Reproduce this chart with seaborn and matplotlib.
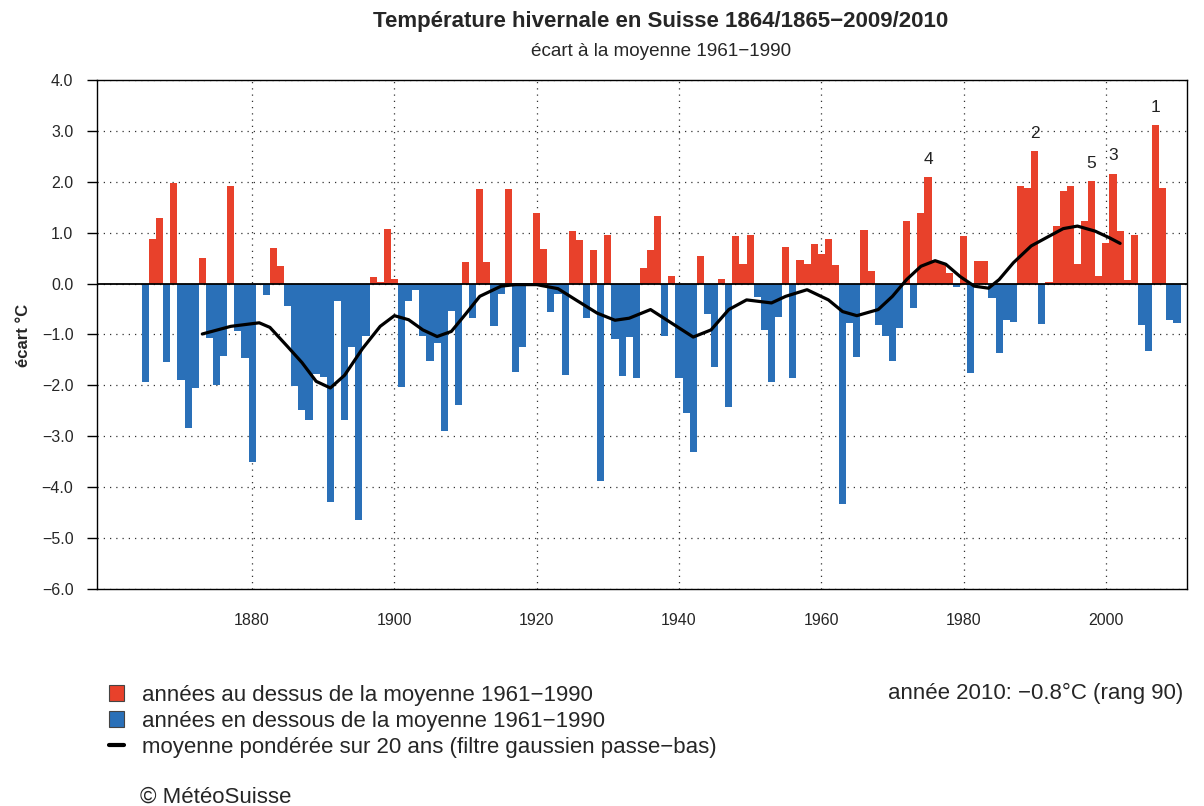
import numpy as np
import pandas as pd
import matplotlib
matplotlib.use("Agg")
import matplotlib.pyplot as plt
import seaborn as sns
from matplotlib.patches import Patch
from matplotlib.lines import Line2D

# ---------------- data ----------------
years = list(range(1865, 2011))
anomaly = [
    -1.93, 0.88, 1.28, -1.55, 1.97, -1.89, -2.84, -2.05, 0.51, -1.07,   # 1865-1874
    -2.00, -1.42, 1.91, -0.94, -1.47, -3.51, -0.03, -0.23, 0.70, 0.34,  # 1875-1884
    -0.44, -2.01, -2.49, -2.67, -1.78, -1.84, -4.30, -0.35, -2.67, -1.25,  # 1885-1894
    -4.64, -1.03, 0.12, 0.03, 1.08, 0.10, -2.03, -0.35, -0.13, -1.03,   # 1895-1904
    -1.52, -1.17, -2.90, -0.53, -2.39, 0.42, -0.68, 1.86, 0.42, -0.84,  # 1905-1914
    -0.20, 1.86, -1.74, -1.24, -0.02, 1.39, 0.68, -0.55, -0.20, -1.79,  # 1915-1924
    1.03, 0.86, -0.68, 0.66, -3.88, 0.95, -1.08, -1.82, -1.05, -1.86,   # 1925-1934
    0.30, 0.66, 1.33, -1.03, 0.14, -1.86, -2.54, -3.31, 0.54, -0.59,    # 1935-1944
    -1.63, 0.10, -2.42, 0.93, 0.38, 0.95, -0.26, -0.92, -1.93, -0.66,   # 1945-1954
    0.72, -1.86, 0.47, 0.38, 0.77, 0.59, 0.88, 0.36, -4.33, -0.78,      # 1955-1964
    -1.45, 1.05, 0.24, -0.82, -1.03, -1.53, -0.87, 1.23, -0.47, 1.39,   # 1965-1974
    2.09, 0.42, 0.40, 0.20, -0.07, 0.93, -1.75, 0.45, 0.45, -0.28,      # 1975-1984
    -1.37, -0.71, -0.75, 1.91, 1.87, 2.60, -0.80, 0.03, 1.14, 1.82,     # 1985-1994
    1.91, 0.39, 1.23, 2.02, 0.14, 0.79, 2.16, 1.03, 0.08, 0.96,         # 1995-2004
    -0.82, -1.33, 3.12, 1.87, -0.71, -0.78,                             # 2005-2010
]

# 20-year gaussian low-pass curve
curve_years = [1873, 1877, 1881, 1882.5, 1885, 1887, 1889, 1891, 1893, 1895.5,
               1898, 1900, 1902, 1904, 1906, 1908, 1910, 1912, 1915, 1917,
               1920, 1923, 1925.5, 1928.5, 1931, 1933, 1936, 1939, 1942, 1944.5,
               1947, 1949.5, 1953, 1955, 1958, 1961, 1963, 1965, 1968, 1970,
               1972, 1974, 1976, 1977.5, 1979.5, 1981.5, 1983.5, 1985, 1987, 1989.5,
               1992, 1994, 1996, 1998.5, 2000.5, 2002]
curve_vals = [-0.99, -0.84, -0.77, -0.86, -1.24, -1.55, -1.92, -2.05, -1.80, -1.28,
              -0.84, -0.63, -0.71, -0.91, -1.04, -0.94, -0.60, -0.25, -0.05, -0.02,
              -0.02, -0.10, -0.32, -0.58, -0.72, -0.68, -0.51, -0.78, -1.05, -0.91,
              -0.51, -0.32, -0.38, -0.25, -0.12, -0.32, -0.55, -0.63, -0.51, -0.25,
              0.08, 0.34, 0.45, 0.38, 0.14, -0.05, -0.09, 0.08, 0.41, 0.74,
              0.93, 1.08, 1.13, 1.03, 0.90, 0.79]

rank_years = [2007, 1990, 2001, 1975, 1998]
yticks = [-6, -5, -4, -3, -2, -1, 0, 1, 2, 3, 4]
xticks = [1880, 1900, 1920, 1940, 1960, 1980, 2000]

title = "Température hivernale en Suisse 1864/1865\u22122009/2010"
subtitle = "écart à la moyenne 1961\u22121990"
ylabel = "écart °C"
legend_labels = ["années au dessus de la moyenne 1961\u22121990",
                 "années en dessous de la moyenne 1961\u22121990",
                 "moyenne pondérée sur 20 ans (filtre gaussien passe\u2212bas)"]
note = "année 2010: \u22120.8°C (rang 90)"
credit = "© MétéoSuisse"

RED = "#E8412B"
BLUE = "#2A70B8"

# ---------------- plot ----------------
sns.set_theme(style="white")
plt.rcParams["font.family"] = ["Liberation Sans", "DejaVu Sans"]

W, H = 1204, 806
fig = plt.figure(figsize=(W / 100, H / 100), dpi=100)
ax = fig.add_axes([97 / W, 1 - 589 / H, (1187 - 97) / W, (589 - 80) / H])

df = pd.DataFrame({"year": years, "anom": anomaly})
df["cat"] = np.where(df["anom"] >= 0, "above", "below")

ax.set_axisbelow(True)
ax.grid(True, color="#333333", linestyle=(0, (1, 4)), linewidth=0.9)

sns.barplot(data=df, x="year", y="anom", hue="cat",
            palette={"above": RED, "below": BLUE},
            native_scale=True, width=1.0, dodge=False, saturation=1,
            linewidth=0, legend=False, ax=ax)

ax.axhline(0, color="black", linewidth=1.3, zorder=3)

sns.lineplot(x=curve_years, y=curve_vals, color="black", linewidth=2.3,
             ax=ax, zorder=4)

anom_map = dict(zip(years, anomaly))
for r, yr in enumerate(rank_years):
    ax.text(yr, anom_map[yr] + 0.2, str(r + 1), ha="center", va="bottom",
            fontsize=12.5, color="#222222")

ax.set_xlim(1858.2, 2011.4)
ax.set_ylim(-6, 4)
ax.set_yticks(yticks)
ax.set_yticklabels([f"{v:.1f}".replace("-", "\u2212") for v in yticks], fontsize=11.5)
ax.set_xticks(xticks)
ax.set_xticklabels([str(v) for v in xticks], fontsize=11.5)
ax.tick_params(axis="y", left=True, length=7, width=1, direction="out", pad=10, color="black")
ax.tick_params(axis="x", bottom=False, length=0, pad=17)
ax.set_xlabel("")
ax.set_ylabel("")
for s in ax.spines.values():
    s.set_visible(True)
    s.set_color("black")
    s.set_linewidth(1.0)

fig.text(661 / W, 1 - 22 / H, title, ha="center", va="center", fontsize=16, fontweight="bold")
fig.text(661 / W, 1 - 52 / H, subtitle, ha="center", va="center", fontsize=13.6)
fig.text(23 / W, 1 - 335 / H, ylabel, ha="center", va="center", rotation=90,
         fontsize=12, fontweight="bold")

handles = [Patch(facecolor=RED, edgecolor="#444444", linewidth=0.8),
           Patch(facecolor=BLUE, edgecolor="#444444", linewidth=0.8),
           Line2D([0], [0], color="black", linewidth=3)]
fig.legend(handles, legend_labels, loc="upper left",
           bbox_to_anchor=(100 / W, 1 - 676 / H), frameon=False, fontsize=16,
           handlelength=0.7, handleheight=0.7, handletextpad=0.8, labelspacing=0.23,
           borderaxespad=0)
fig.text(1183 / W, 1 - 693 / H, note, ha="right", va="center", fontsize=16)
fig.text(140 / W, 1 - 797 / H, credit, ha="left", va="center", fontsize=16)

fig.savefig("out.png", dpi=100)
